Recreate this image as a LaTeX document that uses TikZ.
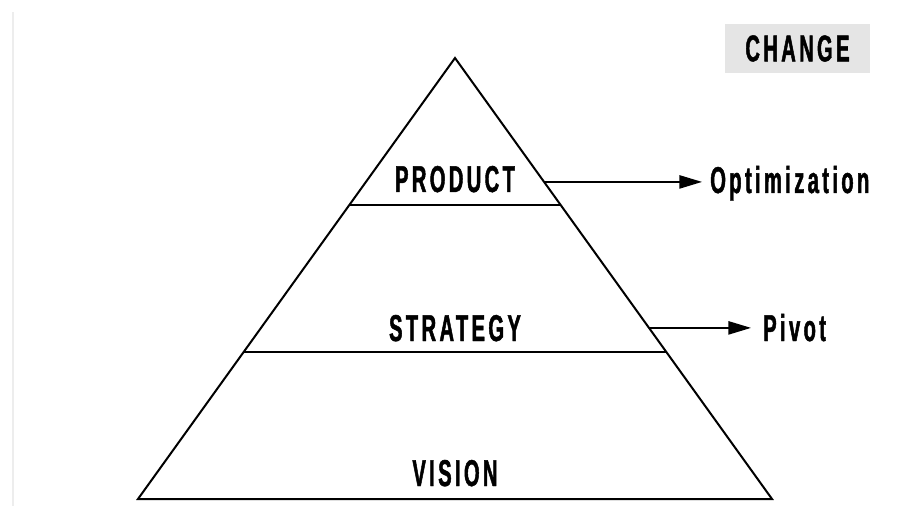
\documentclass[tikz,border=0pt]{standalone}
\usepackage{fontspec}
\newfontfamily\layerfont[FakeStretch=0.54,LetterSpace=9,FakeBold=1.2]{Liberation Sans}
\usetikzlibrary{calc,arrows.meta}

\begin{document}
\begin{tikzpicture}[x=0.75pt,y=-0.75pt,
  layer/.style={font=\layerfont\bfseries\fontsize{28}{32}\selectfont,anchor=base,inner sep=0pt},
  outcome/.style={font=\layerfont\bfseries\fontsize{28}{32}\selectfont,anchor=base west,inner sep=0pt},
  edge/.style={line width=1.5pt},
  push/.style={line width=1.1pt,-{Triangle[length=17pt,width=10pt]}}]
\useasboundingbox (0,0) rectangle (922,506);
\draw[black!7,line width=2.2pt] (13,12) -- (13,506);
\coordinate (apex) at (455,58);
\coordinate (bl) at (138,499);
\coordinate (br) at (772,499);
\draw[edge,line join=miter] (apex) -- (bl) -- (br) -- cycle;
\draw[edge] ($(apex)!1/3!(bl)$) -- ($(apex)!1/3!(br)$);
\draw[edge] ($(apex)!2/3!(bl)$) -- ($(apex)!2/3!(br)$);
\node[layer] (product) at (455,192) {PRODUCT};
\node[layer] (strategy) at (455,341) {STRATEGY};
\node[layer] (vision) at (455,486) {VISION};
\node[font=\layerfont\bfseries\fontsize{28}{32}\selectfont,fill=black!10,
  minimum width=108.75pt,minimum height=36.75pt,inner sep=0pt] (change) at (797.5,48.5) {CHANGE};
\node[outcome] (optim) at (710,193) {Optimization};
\node[outcome] (pivot) at (763,341) {Pivot};
\coordinate (optstart) at ($(apex)!0.281!(br)$);
\coordinate (pivstart) at ($(apex)!0.612!(br)$);
\draw[push] (optstart) -- ([xshift=-6pt]optstart -| optim.west);
\draw[push] (pivstart) -- ([xshift=-9pt]pivstart -| pivot.west);
\end{tikzpicture}
\end{document}
